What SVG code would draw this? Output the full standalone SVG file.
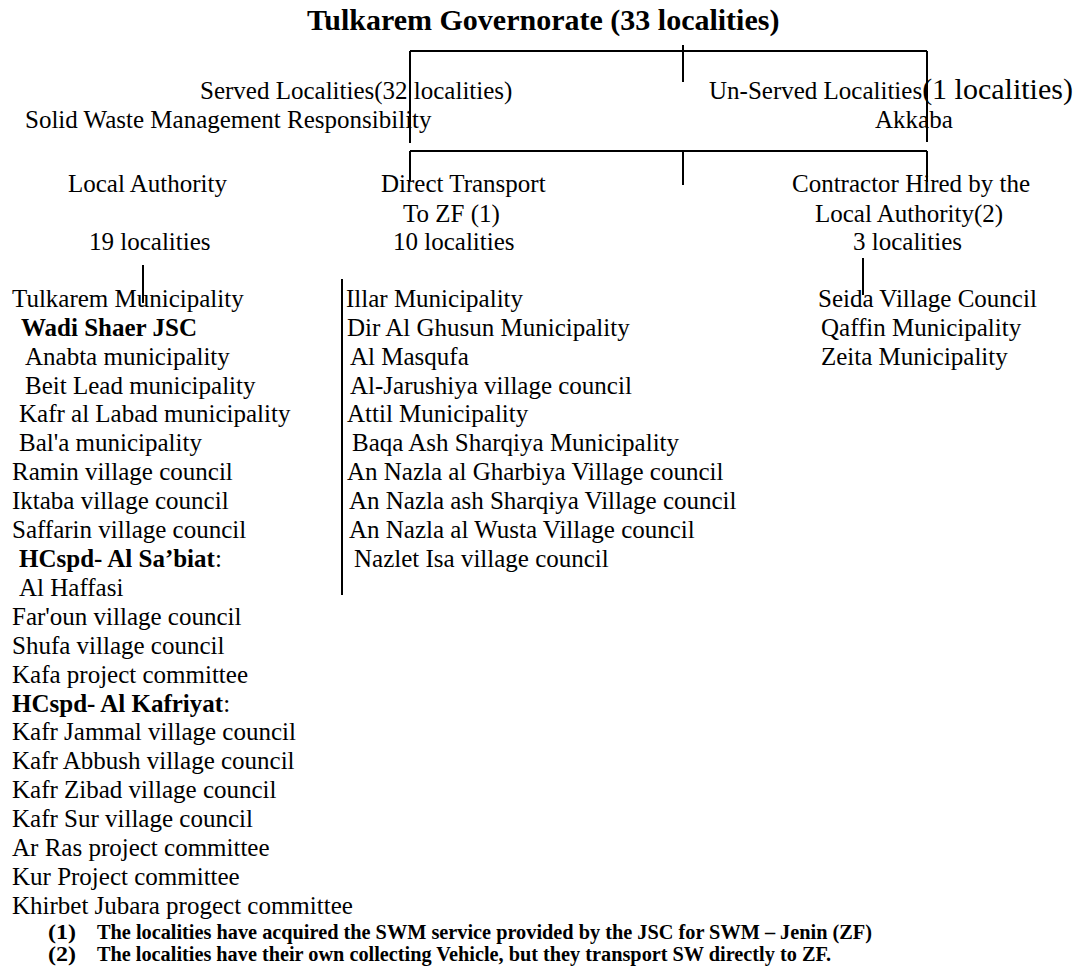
<svg xmlns="http://www.w3.org/2000/svg" width="1078" height="966" viewBox="0 0 1078 966">
<style>
text{font-family:"Liberation Serif","Times New Roman",serif;fill:#000}
.r{font-size:25px}
.big{font-size:30px}
.title{font-size:30px;font-weight:bold}
.b{font-weight:bold}
.fn{font-size:20px;font-weight:bold}
.ln{stroke:#000;stroke-width:2;fill:none}
</style>
<rect width="1078" height="966" fill="#fff"/>
<g id="connectors">
<path class="ln" d="M410,51 H927 M683,45 V82 M410,51 V143 M927,51 V142"/>
<path class="ln" d="M410,151 H927 M683,151 V185 M410,151 V181 M927,151 V182"/>
<path class="ln" d="M143,265 V303 M342,279 V595 M863,258 V295"/>
</g>
<g id="title"><text class="title" x="307" y="30">Tulkarem Governorate (33 localities)</text></g>
<g id="served">
<text class="r" x="200" y="99">Served Localities(32 localities)</text>
<text class="r" x="25" y="128">Solid Waste Management Responsibility</text>
</g>
<g id="unserved">
<text class="r" x="709" y="99">Un-Served Localities<tspan class="big">(1 localities)</tspan></text>
<text class="r" x="875" y="128">Akkaba</text>
</g>
<g id="local-authority">
<text class="r" x="68" y="192">Local Authority</text>
<text class="r" x="89" y="250">19 localities</text>
</g>
<g id="direct-transport">
<text class="r" x="381" y="192">Direct Transport</text>
<text class="r" x="403" y="222">To ZF (1)</text>
<text class="r" x="393" y="250">10 localities</text>
</g>
<g id="contractor">
<text class="r" x="792" y="192">Contractor Hired by the</text>
<text class="r" x="815" y="222">Local Authority(2)</text>
<text class="r" x="853" y="250">3 localities</text>
</g>
<g id="list-local">
<text class="r" x="12" y="307">Tulkarem Municipality</text>
<text class="r b" x="21" y="336">Wadi Shaer JSC</text>
<text class="r" x="25" y="365">Anabta municipality</text>
<text class="r" x="25" y="394">Beit Lead municipality</text>
<text class="r" x="19" y="422">Kafr al Labad municipality</text>
<text class="r" x="19" y="451">Bal'a municipality</text>
<text class="r" x="12" y="480">Ramin village council</text>
<text class="r" x="12" y="509">Iktaba village council</text>
<text class="r" x="12" y="538">Saffarin village council</text>
<text class="r" x="19" y="567"><tspan class="b">HCspd- Al Sa’biat</tspan>:</text>
<text class="r" x="19" y="596">Al Haffasi</text>
<text class="r" x="12" y="625">Far'oun village council</text>
<text class="r" x="12" y="654">Shufa village council</text>
<text class="r" x="12" y="683">Kafa project committee</text>
<text class="r" x="12" y="712"><tspan class="b">HCspd- Al Kafriyat</tspan>:</text>
<text class="r" x="12" y="740">Kafr Jammal village council</text>
<text class="r" x="12" y="769">Kafr Abbush village council</text>
<text class="r" x="12" y="798">Kafr Zibad village council</text>
<text class="r" x="12" y="827">Kafr Sur village council</text>
<text class="r" x="12" y="856">Ar Ras project committee</text>
<text class="r" x="12" y="885">Kur Project committee</text>
<text class="r" x="12" y="914">Khirbet Jubara progect committee</text>
</g>
<g id="list-direct">
<text class="r" x="346" y="307">Illar Municipality</text>
<text class="r" x="347" y="336">Dir Al Ghusun Municipality</text>
<text class="r" x="350" y="365">Al Masqufa</text>
<text class="r" x="350" y="394">Al-Jarushiya village council</text>
<text class="r" x="347" y="422">Attil Municipality</text>
<text class="r" x="352" y="451">Baqa Ash Sharqiya Municipality</text>
<text class="r" x="347" y="480">An Nazla al Gharbiya Village council</text>
<text class="r" x="349" y="509">An Nazla ash Sharqiya Village council</text>
<text class="r" x="349" y="538">An Nazla al Wusta Village council</text>
<text class="r" x="354" y="567">Nazlet Isa village council</text>
</g>
<g id="list-contractor">
<text class="r" x="818" y="307">Seida Village Council</text>
<text class="r" x="821" y="336">Qaffin Municipality</text>
<text class="r" x="821" y="365">Zeita Municipality</text>
</g>
<g id="footnotes">
<text class="fn" x="48" y="939" textLength="28" lengthAdjust="spacingAndGlyphs">(1)</text>
<text class="fn" x="97" y="939" textLength="775" lengthAdjust="spacingAndGlyphs">The localities have acquired the SWM service provided by the JSC for SWM – Jenin (ZF)</text>
<text class="fn" x="48" y="961" textLength="28" lengthAdjust="spacingAndGlyphs">(2)</text>
<text class="fn" x="97" y="961" textLength="734" lengthAdjust="spacingAndGlyphs">The localities have their own collecting Vehicle, but they transport SW directly to ZF.</text>
</g>
</svg>
